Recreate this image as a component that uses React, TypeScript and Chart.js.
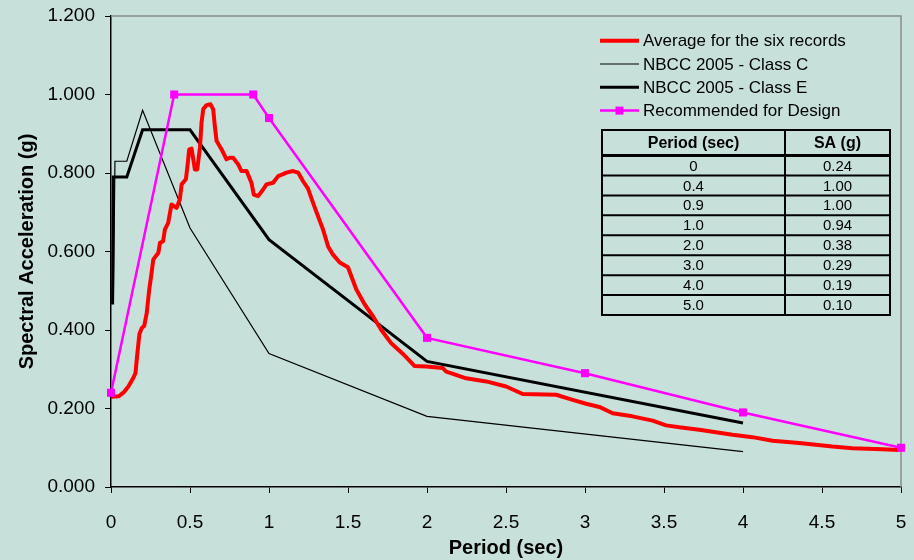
import React, { useEffect, useRef } from 'react';
import { Chart, registerables } from 'chart.js';

Chart.register(...registerables);

// ---- Data ----
const avgPeriod = [
  0.0, 0.05, 0.08, 0.11, 0.14, 0.155, 0.165, 0.18, 0.195, 0.21, 0.226, 0.242, 0.255, 0.268,
  0.3, 0.31, 0.33, 0.341, 0.362, 0.383, 0.415, 0.436, 0.447, 0.474, 0.483, 0.495, 0.51,
  0.531, 0.546, 0.563, 0.573, 0.584, 0.605, 0.63, 0.647, 0.657, 0.668, 0.7, 0.731, 0.752,
  0.773, 0.805, 0.826, 0.858, 0.889, 0.904, 0.931, 0.963, 0.984, 1.026, 1.058, 1.089, 1.11,
  1.152, 1.184, 1.216, 1.247, 1.279, 1.31, 1.342, 1.374, 1.405, 1.448, 1.5, 1.521, 1.553,
  1.606, 1.658, 1.711, 1.774, 1.848, 1.922, 1.996, 2.1, 2.122, 2.248, 2.375, 2.501, 2.606,
  2.817, 2.922, 3.007, 3.091, 3.175, 3.3, 3.428, 3.513, 3.597, 3.723, 3.934, 4.06, 4.187,
  4.355, 4.566, 4.692, 4.882, 4.987,
];
const avgSA = [
  0.23, 0.231, 0.241, 0.256, 0.277, 0.29, 0.333, 0.39, 0.405, 0.41, 0.443, 0.503, 0.54, 0.58,
  0.597, 0.622, 0.626, 0.656, 0.673, 0.72, 0.711, 0.733, 0.771, 0.784, 0.814, 0.86, 0.862,
  0.809, 0.809, 0.865, 0.928, 0.963, 0.973, 0.975, 0.962, 0.92, 0.882, 0.86, 0.835, 0.839,
  0.839, 0.822, 0.805, 0.805, 0.775, 0.745, 0.741, 0.758, 0.771, 0.775, 0.792, 0.797, 0.801,
  0.805, 0.801, 0.779, 0.76, 0.724, 0.69, 0.656, 0.613, 0.592, 0.572, 0.56, 0.537, 0.503,
  0.465, 0.435, 0.4, 0.366, 0.339, 0.308, 0.307, 0.303, 0.294, 0.277, 0.269, 0.256, 0.237,
  0.235, 0.222, 0.212, 0.204, 0.188, 0.18, 0.169, 0.157, 0.152, 0.146, 0.133, 0.127, 0.118,
  0.112, 0.103, 0.099, 0.096, 0.094,
];

const classCPeriod = [0.015, 0.025, 0.1, 0.2, 0.5, 1.0, 2.0, 4.0];
const classCSA = [0.47, 0.83, 0.83, 0.96, 0.66, 0.34, 0.18, 0.09];

const classEPeriod = [0.01, 0.015, 0.1, 0.2, 0.5, 1.0, 2.0, 4.0];
const classESA = [0.465, 0.79, 0.79, 0.91, 0.91, 0.63, 0.32, 0.163];

const designPeriod = [0, 0.4, 0.9, 1.0, 2.0, 3.0, 4.0, 5.0];
const designSA = [0.24, 1.0, 1.0, 0.94, 0.38, 0.29, 0.19, 0.1];

const seriesLabels = [
  'Average for the six records',
  'NBCC 2005 - Class C',
  'NBCC 2005 - Class E',
  'Recommended for Design',
];
const tableHeaders = ['Period (sec)', 'SA (g)'];
const xTitle = 'Period (sec)';
const yTitle = 'Spectral Acceleration (g)';

const FONT = '"Liberation Sans", Arial, sans-serif';

const toPoints = (xs: number[], ys: number[]) => xs.map((x, i) => ({ x, y: ys[i] }));

const frameAndLegendPlugin = {
  id: 'frameAndLegend',
  beforeDatasetsDraw(chart: any) {
    const { ctx, chartArea } = chart;
    ctx.save();
    ctx.strokeStyle = '#8a8a8a';
    ctx.lineWidth = 1.5;
    ctx.beginPath();
    ctx.moveTo(chartArea.left, chartArea.top);
    ctx.lineTo(chartArea.right, chartArea.top);
    ctx.lineTo(chartArea.right, chartArea.bottom);
    ctx.stroke();
    ctx.restore();
  },
  afterDraw(chart: any) {
    const ctx = chart.ctx as CanvasRenderingContext2D;
    ctx.save();
    // Legend
    chart.data.datasets.forEach((ds: any, i: number) => {
      const y = 40.7 + i * 23.3;
      ctx.strokeStyle = ds.borderColor;
      ctx.lineWidth = ds.borderWidth;
      ctx.beginPath();
      ctx.moveTo(600, y);
      ctx.lineTo(639, y);
      ctx.stroke();
      if (ds.pointRadius > 0) {
        ctx.fillStyle = ds.pointBackgroundColor;
        ctx.fillRect(619.5 - 4, y - 4, 8, 8);
      }
      ctx.fillStyle = '#000';
      ctx.font = `17px ${FONT}`;
      ctx.textAlign = 'left';
      ctx.textBaseline = 'middle';
      ctx.fillText(ds.label, 643, y + 1);
    });

    // Table
    const left = 602, right = 890, mid = 785, top = 130, headerBottom = 155.5;
    const rowH = (315 - headerBottom) / designPeriod.length;
    const bottom = headerBottom + rowH * designPeriod.length;
    ctx.strokeStyle = '#000';
    ctx.lineWidth = 2;
    ctx.strokeRect(left, top, right - left, bottom - top);
    ctx.beginPath();
    ctx.moveTo(mid, top);
    ctx.lineTo(mid, bottom);
    ctx.stroke();
    ctx.lineWidth = 3;
    ctx.beginPath();
    ctx.moveTo(left, headerBottom);
    ctx.lineTo(right, headerBottom);
    ctx.stroke();
    ctx.lineWidth = 2;
    for (let i = 1; i < designPeriod.length; i++) {
      const y = headerBottom + rowH * i;
      ctx.beginPath();
      ctx.moveTo(left, y);
      ctx.lineTo(right, y);
      ctx.stroke();
    }
    const c1 = (left + mid) / 2, c2 = (mid + right) / 2;
    ctx.fillStyle = '#000';
    ctx.textAlign = 'center';
    ctx.textBaseline = 'middle';
    ctx.font = `bold 16px ${FONT}`;
    ctx.fillText(tableHeaders[0], c1, (top + headerBottom) / 2 + 1);
    ctx.fillText(tableHeaders[1], c2, (top + headerBottom) / 2 + 1);
    ctx.font = `15px ${FONT}`;
    designPeriod.forEach((p, i) => {
      const y = headerBottom + rowH * (i + 0.5) + 1;
      ctx.fillText(p === 0 ? '0' : p.toFixed(1), c1, y);
      ctx.fillText(designSA[i].toFixed(2), c2, y);
    });
    ctx.restore();
  },
};

export default function App() {
  const canvasRef = useRef<HTMLCanvasElement | null>(null);

  useEffect(() => {
    if (!canvasRef.current) return;
    const chart = new Chart(canvasRef.current, {
      type: 'line',
      data: {
        datasets: [
          {
            label: seriesLabels[0],
            data: toPoints(avgPeriod, avgSA),
            borderColor: '#ff0000',
            backgroundColor: '#ff0000',
            borderWidth: 4,
            pointRadius: 0,
            tension: 0,
            borderJoinStyle: 'round',
            order: 1,
          },
          {
            label: seriesLabels[1],
            data: toPoints(classCPeriod, classCSA),
            borderColor: '#000000',
            backgroundColor: '#000000',
            borderWidth: 1.2,
            pointRadius: 0,
            tension: 0,
            order: 3,
          },
          {
            label: seriesLabels[2],
            data: toPoints(classEPeriod, classESA),
            borderColor: '#000000',
            backgroundColor: '#000000',
            borderWidth: 3,
            pointRadius: 0,
            tension: 0,
            order: 2,
          },
          {
            label: seriesLabels[3],
            data: toPoints(designPeriod, designSA),
            borderColor: '#ff00ff',
            backgroundColor: '#ff00ff',
            pointBackgroundColor: '#ff00ff',
            pointBorderColor: '#ff00ff',
            borderWidth: 2.5,
            pointStyle: 'rect',
            pointRadius: 5.7,
            pointBorderWidth: 0,
            tension: 0,
            clip: false,
            order: 0,
          } as any,
        ],
      },
      options: {
        animation: false,
        responsive: false,
        maintainAspectRatio: false,
        layout: { padding: { left: 0, top: 16, right: 13, bottom: 0 } },
        plugins: {
          legend: { display: false },
          tooltip: { enabled: false },
          title: { display: false },
        },
        scales: {
          x: {
            type: 'linear',
            min: 0,
            max: 5,
            afterFit: (s: any) => {
              s.height = 73;
              s.paddingLeft = 0;
              s.paddingRight = 0;
            },
            ticks: {
              stepSize: 0.5,
              color: '#000',
              font: { family: FONT, size: 19 },
              padding: 18,
              maxRotation: 0,
              callback: (v: any) => String(Number(v)),
            },
            grid: {
              drawOnChartArea: false,
              drawTicks: true,
              tickLength: 6,
              color: '#000',
            },
            border: { display: true, color: '#000', width: 1.5 },
            title: {
              display: true,
              text: xTitle,
              color: '#000',
              font: { family: FONT, size: 20, weight: 'bold' },
              padding: { top: 0, bottom: 0 },
            },
          },
          y: {
            type: 'linear',
            min: 0,
            max: 1.2,
            afterFit: (s: any) => {
              s.width = 111;
              s.paddingTop = 0;
              s.paddingBottom = 0;
            },
            ticks: {
              stepSize: 0.2,
              color: '#000',
              font: { family: FONT, size: 19 },
              padding: 10,
              callback: (v: any) => Number(v).toFixed(3),
            },
            grid: {
              drawOnChartArea: false,
              drawTicks: true,
              tickLength: 6,
              color: '#000',
            },
            border: { display: true, color: '#000', width: 1.5 },
            title: {
              display: true,
              text: yTitle,
              color: '#000',
              font: { family: FONT, size: 20, weight: 'bold' },
              padding: { top: 15, bottom: 0 },
            },
          },
        },
      } as any,
      plugins: [frameAndLegendPlugin],
    });
    return () => chart.destroy();
  }, []);

  return (
    <div
      style={{
        position: 'fixed',
        left: 0,
        top: 0,
        width: 914,
        height: 560,
        background: '#c8e0da',
      }}
    >
      <canvas ref={canvasRef} width={914} height={560} style={{ width: 914, height: 560, display: 'block' }} />
    </div>
  );
}
